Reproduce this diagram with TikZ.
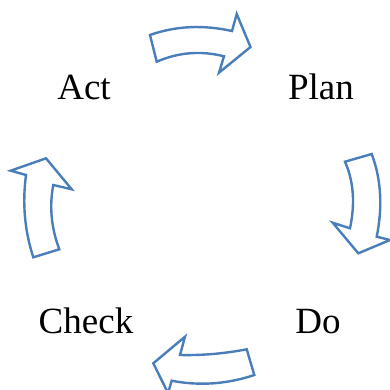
\documentclass[tikz,border=0pt]{standalone}
\usepackage{fontspec}
\setmainfont{Liberation Serif}
\definecolor{arrowblue}{RGB}{74,126,187}
\tikzset{
  cyclearrow/.style={draw=arrowblue, line width=2.4pt, line join=miter, fill=white},
  stagelabel/.style={anchor=base, inner sep=0pt, font=\fontsize{37}{44}\selectfont}
}
\begin{document}
\begin{tikzpicture}[x=1pt, y=-1pt]
    \useasboundingbox (0,0) rectangle (390,390);
    \begin{scope}
    \clip (0,0) rectangle (390,390);
    % top arrow, Act -> Plan
    \draw[cyclearrow] (150,35) .. controls (176.1,25.8) and (203.3,24.7) .. (232,31)
        -- (236.7,14) -- (250.5,47) -- (219,72.7) -- (224,56.3)
        .. controls (201.1,50.5) and (178.9,52.2) .. (156.7,61.7) -- cycle;
    % right arrow, Plan -> Do
    \draw[cyclearrow] (345,161.7) -- (371.7,154)
        .. controls (381.1,178.9) and (382.8,206.5) .. (376.7,236.7)
        -- (390,240) -- (358.3,253.3) -- (332.7,222.7) -- (350,228.3)
        .. controls (355.3,203.4) and (353.6,181.2) .. cycle;
    % bottom arrow, Do -> Check
    \draw[cyclearrow] (246.7,349.3) -- (254.3,375)
        .. controls (226.8,384.2) and (199.2,386.1) .. (171.7,380.7)
        -- (168,393) -- (153.3,363.3) -- (185,336.7) -- (180,355)
        .. controls (202.2,355.5) and (224.5,353.6) .. cycle;
    % left arrow, Check -> Act
    \draw[cyclearrow] (33.3,257.3) -- (59.3,249.3)
        .. controls (51.2,227.7) and (49.2,206.2) .. (53.3,185)
        -- (71.7,189.3) -- (46,158.3) -- (10.7,170.7) -- (26,175)
        .. controls (22.2,203.6) and (24.7,231) .. cycle;
    \end{scope}
    \node[stagelabel] (act) at (84,100) {Act};
    \node[stagelabel] (plan) at (321,100) {Plan};
    \node[stagelabel] (check) at (86,333) {Check};
    \node[stagelabel] (do) at (318,333) {Do};
\end{tikzpicture}
\end{document}
